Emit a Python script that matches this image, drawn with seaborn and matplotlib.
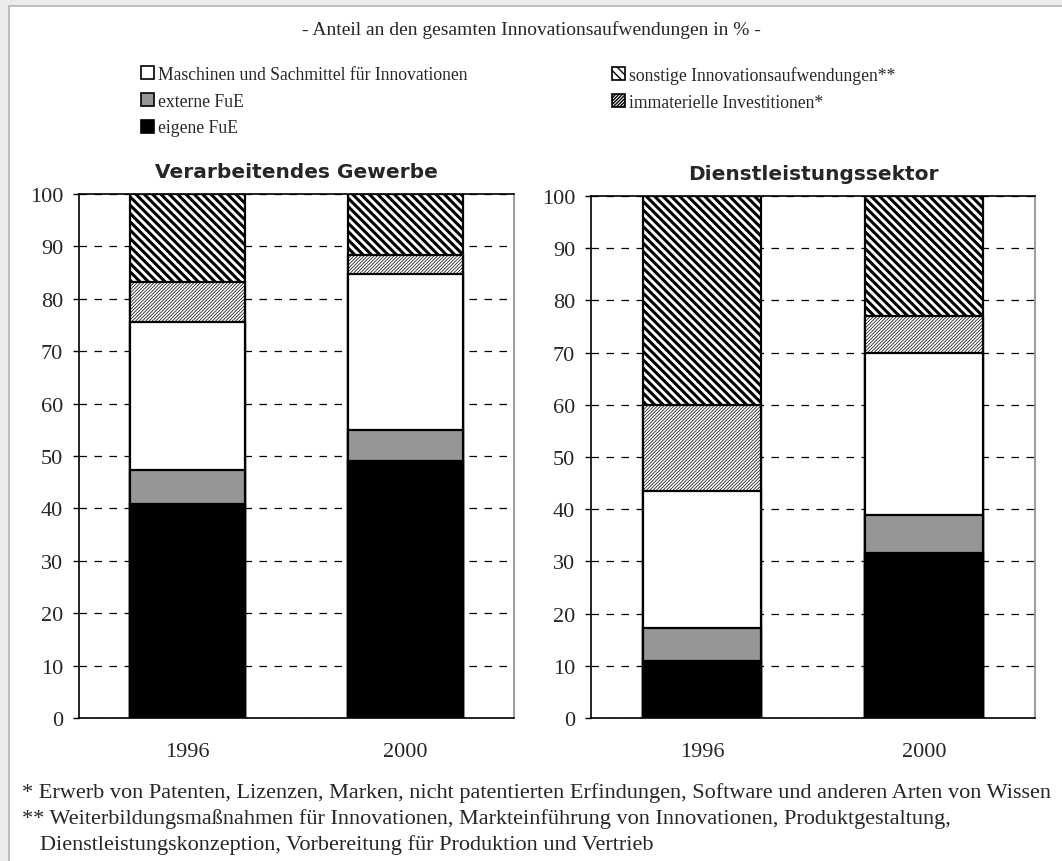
import matplotlib
matplotlib.use("Agg")
import matplotlib.pyplot as plt
from matplotlib.patches import Patch, Rectangle
import seaborn as sns
import pandas as pd
import numpy as np

# ---------------- data ----------------
years = ["1996", "2000"]
sectors = ["Verarbeitendes Gewerbe", "Dienstleistungssektor"]
eigene_fue = {"Verarbeitendes Gewerbe": [40.9, 49.0], "Dienstleistungssektor": [11.0, 31.7]}
externe_fue = {"Verarbeitendes Gewerbe": [6.4, 5.9], "Dienstleistungssektor": [6.3, 7.1]}
maschinen = {"Verarbeitendes Gewerbe": [28.2, 29.8], "Dienstleistungssektor": [26.1, 31.1]}
immaterielle = {"Verarbeitendes Gewerbe": [7.7, 3.6], "Dienstleistungssektor": [16.6, 7.2]}
sonstige = {"Verarbeitendes Gewerbe": [16.8, 11.7], "Dienstleistungssektor": [40.0, 22.9]}

series_names = ["eigene FuE", "externe FuE", "Maschinen und Sachmittel für Innovationen",
                "immaterielle Investitionen*", "sonstige Innovationsaufwendungen**"]
series_values = [eigene_fue, externe_fue, maschinen, immaterielle, sonstige]

title_text = "- Anteil an den gesamten Innovationsaufwendungen in % -"
footnote1 = "* Erwerb von Patenten, Lizenzen, Marken, nicht patentierten Erfindungen, Software und anderen Arten von Wissen"
footnote2 = "** Weiterbildungsmaßnahmen für Innovationen, Markteinführung von Innovationen, Produktgestaltung,"
footnote3 = "Dienstleistungskonzeption, Vorbereitung für Produktion und Vertrieb"

# ---------------- styles ----------------
styles = {
    "eigene FuE": dict(color="black", hatch=None, hlw=1.0),
    "externe FuE": dict(color="#969696", hatch=None, hlw=1.0),
    "Maschinen und Sachmittel für Innovationen": dict(color="white", hatch=None, hlw=1.0),
    "immaterielle Investitionen*": dict(color="white", hatch="/" * 10, hlw=0.5),
    "sonstige Innovationsaufwendungen**": dict(color="white", hatch="\\" * 4, hlw=2.2),
}

rows = []
for sec in sectors:
    for i, yr in enumerate(years):
        cum = 0.0
        for name, vals in zip(series_names, series_values):
            cum += vals[sec][i]
            rows.append(dict(sector=sec, year=yr, series=name, value=vals[sec][i], top=cum))
df = pd.DataFrame(rows)

sns.set_theme(style="white")
plt.rcParams["font.family"] = ["Liberation Serif", "DejaVu Serif"]

W, H = 1062, 862
fig = plt.figure(figsize=(W / 100, H / 100), dpi=100)
fig.patch.set_facecolor("#ececec")
fig.add_artist(Rectangle((9 / W, -0.05), 1.2, (H - 7) / H + 0.05, transform=fig.transFigure,
                         facecolor="white", edgecolor="#b4b4b4", linewidth=1.2, zorder=-10))

axes_px = [(79, 514, 195, 719), (591, 1035, 197, 719)]

for sec, (x0, x1, yt, yb) in zip(sectors, axes_px):
    ax = fig.add_axes([x0 / W, (H - yb) / H, (x1 - x0) / W, (yb - yt) / H])
    sub = df[df.sector == sec]
    # draw from tallest cumulative to shortest (overlapping stacking)
    for name in series_names[::-1]:
        st = styles[name]
        d = sub[sub.series == name]
        with plt.rc_context({"hatch.linewidth": st["hlw"]}):
            n_before = len(ax.patches)
            sns.barplot(data=d, x="year", y="top", order=years, color=st["color"], saturation=1,
                        width=0.53, edgecolor="black", linewidth=1.6, hatch=st["hatch"], ax=ax,
                        errorbar=None)
            for p in ax.patches[n_before:]:
                p.set_facecolor(st["color"])
                if hasattr(p, "set_hatch_linewidth"):
                    p.set_hatch_linewidth(st["hlw"])
    ax.set_xlim(-0.5, 1.5)
    ax.set_ylim(0, 100)
    ax.set_yticks(np.arange(0, 101, 10))
    ax.set_xlabel("")
    ax.set_ylabel("")
    ax.set_axisbelow(True)
    ax.yaxis.grid(True, linestyle=(0, (6, 6)), color="black", linewidth=0.9)
    ax.xaxis.grid(False)
    for s in ["left", "bottom", "top"]:
        ax.spines[s].set_visible(True)
        ax.spines[s].set_color("black")
        ax.spines[s].set_linewidth(1.2)
    ax.spines["right"].set_visible(True)
    ax.spines["right"].set_color("#8a8a8a")
    ax.spines["right"].set_linewidth(1.2)
    ax.tick_params(axis="y", direction="out", length=4.5, width=1, color="black",
                   labelsize=16, pad=7, left=True)
    ax.tick_params(axis="x", length=0, labelsize=16, pad=17)
    ax.set_title(sec, fontsize=14.5, fontweight="bold", family="DejaVu Sans", pad=12)

fig.text(531 / W, 1 - 30 / H, title_text, ha="center", va="center", fontsize=14)

handles_left = [Patch(facecolor=styles[n]["color"], edgecolor="black", hatch=styles[n]["hatch"], linewidth=1.2)
                for n in ["Maschinen und Sachmittel für Innovationen", "externe FuE", "eigene FuE"]]
labels_left = ["Maschinen und Sachmittel für Innovationen", "externe FuE", "eigene FuE"]
handles_right = [Patch(facecolor=styles[n]["color"], edgecolor="black", hatch=styles[n]["hatch"], linewidth=1.2)
                 for n in ["sonstige Innovationsaufwendungen**", "immaterielle Investitionen*"]]
labels_right = ["sonstige Innovationsaufwendungen**", "immaterielle Investitionen*"]

leg_kw = dict(frameon=False, fontsize=12.7, handlelength=0.75, handleheight=0.75, handletextpad=0.2,
              labelspacing=0.55, borderpad=0, borderaxespad=0)
fig.legend(handles_left, labels_left, loc="upper left", bbox_to_anchor=(141 / W, 1 - 67 / H), **leg_kw)
fig.legend(handles_right, labels_right, loc="upper left", bbox_to_anchor=(612 / W, 1 - 67 / H), **leg_kw)

fig.text(22 / W, 1 - 793 / H, footnote1, ha="left", va="center", fontsize=16)
fig.text(22 / W, 1 - 819 / H, footnote2, ha="left", va="center", fontsize=16)
fig.text(40 / W, 1 - 845 / H, footnote3, ha="left", va="center", fontsize=16)

fig.savefig("out.png", dpi=100, facecolor=fig.get_facecolor())
